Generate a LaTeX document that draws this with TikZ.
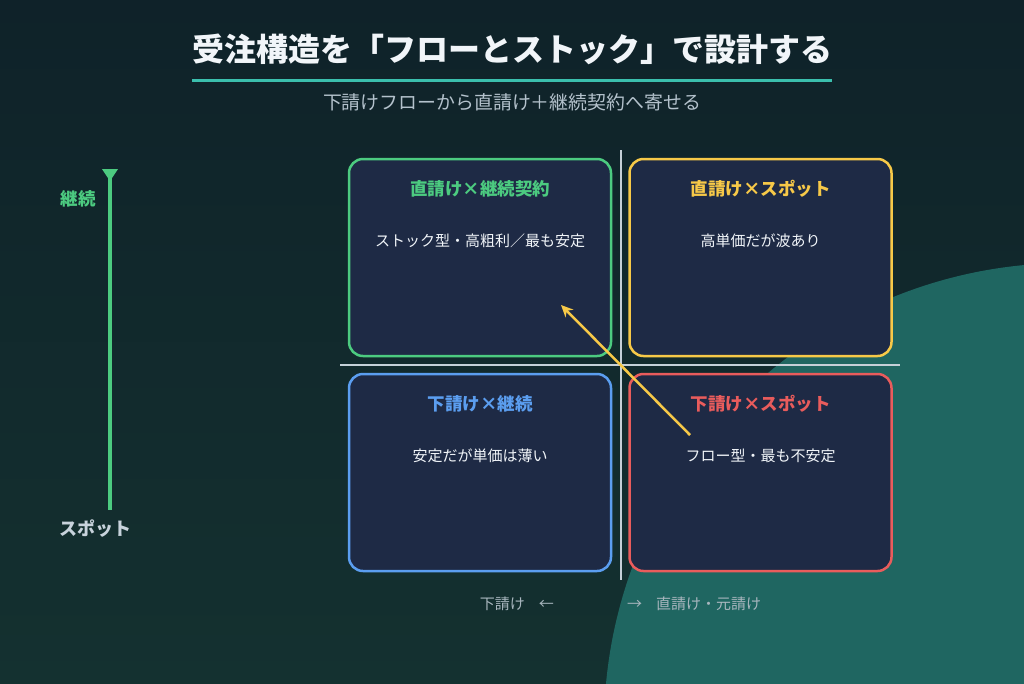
\documentclass[tikz,border=0pt]{standalone}
\usepackage{fontspec}
\setmainfont{Noto Sans CJK JP}
\usetikzlibrary{arrows.meta}
\definecolor{bgtop}{HTML}{0F2229}
\definecolor{bgbot}{HTML}{143130}
\definecolor{circfill}{HTML}{1F6661}
\definecolor{boxfill}{HTML}{1E2A45}
\definecolor{cgreen}{HTML}{4CCB80}
\definecolor{cyellow}{HTML}{F7C948}
\definecolor{cblue}{HTML}{5B9EF0}
\definecolor{cred}{HTML}{E95C5C}
\definecolor{ctitle}{HTML}{F1F5F9}
\definecolor{cunder}{HTML}{3BBFAD}
\definecolor{csub}{HTML}{B4C2CC}
\definecolor{caxis}{HTML}{C5D0D8}
\definecolor{clabel}{HTML}{A8B6BE}
\definecolor{cspot}{HTML}{C8D3DC}
\tikzset{
  qbox/.style={draw, fill=boxfill, line width=2.5pt, rounded corners=14pt,
    minimum width=262pt, minimum height=197pt, inner sep=0pt},
  qtitle/.style={font=\fontsize{17.5}{19}\selectfont\bfseries, inner sep=0pt},
  qbody/.style={font=\fontsize{15}{17}\selectfont, text=ctitle, inner sep=0pt},
  axisline/.style={draw=caxis, line width=1.8pt},
  blabel/.style={font=\fontsize{15}{17}\selectfont, text=clabel, inner sep=0pt},
}
\begin{document}
\begin{tikzpicture}[x=1pt,y=-1pt]
\useasboundingbox (0,0) rectangle (1024,683);
\begin{scope}
\clip (0,0) rectangle (1024,683);
\fill[top color=bgtop, bottom color=bgbot] (0,0) rectangle (1024,683);
\fill[circfill] (1068,727) circle [radius=464pt];
\end{scope}
% title
\node[font=\fontsize{32}{34}\selectfont\bfseries, text=ctitle, inner sep=0pt] (title) at (512,49) {受注構造を「フローとストック」で設計する};
\coordinate (ulL) at (192,80);
\coordinate (ulR) at (832,80);
\draw[cunder, line width=3pt] (ulL) -- (ulR);
\node[font=\fontsize{18.9}{21}\selectfont, text=csub, inner sep=0pt] (sub) at (512,102) {下請けフローから直請け＋継続契約へ寄せる};
% cross axes
\coordinate (vT) at (621,150);
\coordinate (vB) at (621,580);
\coordinate (hL) at (340,365);
\coordinate (hR) at (900,365);
\draw[axisline] (vT) -- (vB);
\draw[axisline] (hL) -- (hR);
% boxes
\node[qbox, draw=cgreen] (tl) at (480,257.5) {};
\node[qbox, draw=cyellow] (tr) at (760.5,257.5) {};
\node[qbox, draw=cblue] (bl) at (480,472.5) {};
\node[qbox, draw=cred] (br) at (760.5,472.5) {};
\node[qtitle, text=cgreen] (tlt) at (480,189) {直請け×継続契約};
\node[qtitle, text=cyellow] (trt) at (760.5,189) {直請け×スポット};
\node[qtitle, text=cblue] (blt) at (480,404) {下請け×継続};
\node[qtitle, text=cred] (brt) at (760.5,404) {下請け×スポット};
\node[qbody] (tlb) at (480,241) {ストック型・高粗利／最も安定};
\node[qbody] (trb) at (760.5,241) {高単価だが波あり};
\node[qbody] (blb) at (480,456) {安定だが単価は薄い};
\node[qbody] (brb) at (760.5,456) {フロー型・最も不安定};
% left axis
\coordinate (yT) at (110,172);
\coordinate (yB) at (110,510);
\draw[cgreen, line width=4pt] (yT) -- (yB);
\fill[cgreen] (102,169) -- (118,169) -- (110,181) -- cycle;
\node[font=\fontsize{17.5}{19}\selectfont\bfseries, text=cgreen, inner sep=0pt] (ycont) at (78,199) {継続};
\node[font=\fontsize{18}{20}\selectfont\bfseries, text=cspot, inner sep=0pt] (yspot) at (95,529) {スポット};
% bottom labels
\node[blabel, anchor=east] (xl) at (554,604) {下請け\hspace{14pt}←};
\node[blabel, anchor=west] (xr) at (627,604) {→\hspace{14pt}直請け・元請け};
% shift arrow
\coordinate (arS) at (690,435);
\coordinate (arE) at (561,305);
\draw[cyellow, line width=2.5pt, -{Stealth[length=12pt,width=11pt]}] (arS) -- (arE);
\end{tikzpicture}
\end{document}
